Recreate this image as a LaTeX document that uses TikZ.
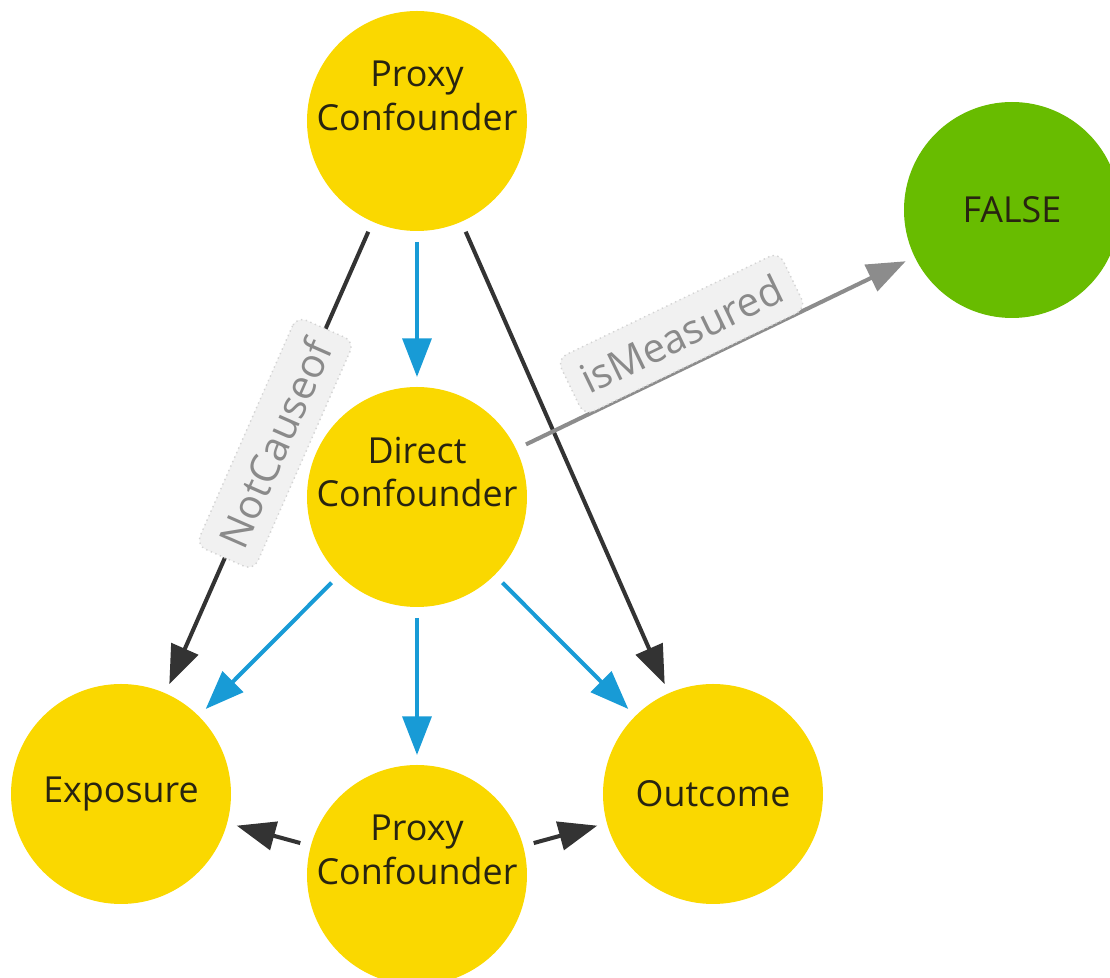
\documentclass[tikz,border=0pt]{standalone}
\usepackage{fontspec}
\setmainfont{Open Sans}
\usetikzlibrary{arrows.meta}

\definecolor{conceptyellow}{RGB}{250,216,0}
\definecolor{valuegreen}{RGB}{104,188,0}
\definecolor{causeblue}{RGB}{24,155,214}
\definecolor{linedark}{RGB}{51,51,51}
\definecolor{linegray}{RGB}{140,140,140}
\definecolor{captiontext}{RGB}{40,36,16}
\definecolor{labeltext}{RGB}{138,138,138}
\definecolor{labelfill}{RGB}{241,241,241}
\definecolor{labelrule}{RGB}{212,212,212}

\tikzset{
  concept/.style={circle, fill=conceptyellow, minimum size=2.2cm, inner sep=0pt, outer sep=0pt},
  value/.style={concept, fill=valuegreen, minimum size=2.16cm},
  caption/.style={align=center, text=captiontext, font=\fontsize{10.2}{12.5}\selectfont},
  rel/.style={line width=1.15pt, -{Triangle[length=11pt,width=8.2pt]}, shorten <=0.11cm, shorten >=0.1cm},
  blue rel/.style={rel, causeblue},
  dark rel/.style={rel, linedark},
  gray rel/.style={rel, linegray},
  edgelabel/.style={sloped, draw=labelrule, fill=labelfill, densely dotted, line width=0.4pt,
    rounded corners=3pt, text=labeltext, inner xsep=4pt, inner ysep=4.5pt,
    font=\fontsize{11.5}{13}\selectfont}
}

\begin{document}
\begin{tikzpicture}
  \useasboundingbox (0,0) rectangle (11.1,9.78);

  % concepts
  \node[concept] (tp) at (4.17,8.57) {};
  \node[concept] (dc) at (4.17,4.81) {};
  \node[concept] (bp) at (4.17,1.03) {};
  \node[concept] (ex) at (1.21,1.84) {};
  \node[concept] (oc) at (7.13,1.84) {};
  \node[value] (fl) at (10.12,7.68) {};

  \node[caption] (tp-txt) at ([yshift=0.25cm]tp) {Proxy\\Confounder};
  \node[caption] (dc-txt) at ([yshift=0.25cm]dc) {Direct\\Confounder};
  \node[caption] (bp-txt) at ([yshift=0.25cm]bp) {Proxy\\Confounder};
  \node[caption] (ex-txt) at (ex) {Exposure};
  \node[caption] (oc-txt) at (oc) {Outcome};
  \node[caption] (fl-txt) at (fl) {FALSE};

  % relations
  \draw[dark rel] (tp) -- node[edgelabel, pos=0.47] (notcause) {NotCauseof} (ex);
  \draw[blue rel] (tp) -- (dc);
  \draw[dark rel] (tp) -- (oc);
  \draw[gray rel] (dc) -- node[edgelabel, pos=0.45, above=0pt] (measured) {isMeasured} (fl);
  \draw[blue rel] (dc) -- (ex);
  \draw[blue rel] (dc) -- (bp);
  \draw[blue rel] (dc) -- (oc);
  \draw[dark rel] (bp) -- (ex);
  \draw[dark rel] (bp) -- (oc);
\end{tikzpicture}
\end{document}
